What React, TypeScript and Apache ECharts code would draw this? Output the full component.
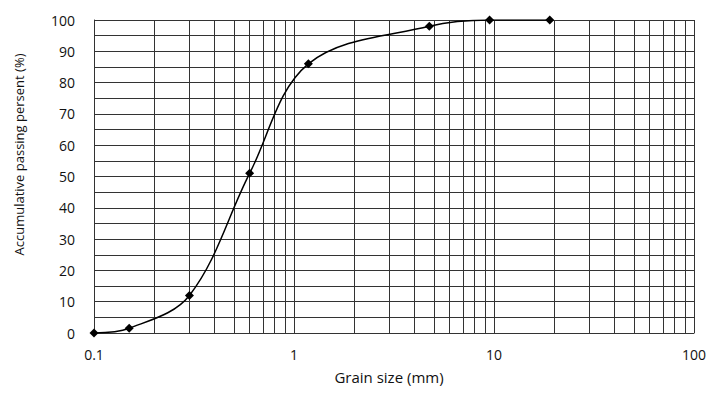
import React, { useEffect, useRef } from "react";
import * as echarts from "echarts";

const grainSizes = [0.1, 0.15, 0.3, 0.6, 1.18, 4.75, 9.5, 19];
const passing = [0, 1.5, 12, 51, 86, 98, 100, 100];
const verticalGrid = [
  0.2, 0.3, 0.4, 0.5, 0.6, 0.7, 0.8, 0.9, 1,
  2, 3, 4, 5, 6, 7, 8, 9, 10,
  20, 30, 40, 50, 60, 70, 80, 90, 100,
];
const xTickLabels = ["0.1", "1", "10", "100"];

const FONT = "'Open Sans', 'Noto Sans', sans-serif";

export default function App() {
  const ref = useRef<HTMLDivElement>(null);
  useEffect(() => {
    if (!ref.current) return;
    const chart = echarts.init(ref.current, null, { renderer: "svg" });
    chart.setOption({
      animation: false,
      backgroundColor: "#fff",
      grid: { left: 94, right: 25, top: 20, bottom: 65 },
      xAxis: {
        type: "log",
        logBase: 10,
        min: 0.1,
        max: 100,
        name: "Grain size (mm)",
        nameLocation: "middle",
        nameGap: 36,
        nameTextStyle: { fontFamily: FONT, fontSize: 15, color: "#111", padding: [0, 10, 0, 0] },
        axisLine: { show: true, lineStyle: { color: "#333", width: 1 } },
        axisTick: { show: false },
        axisLabel: {
          fontFamily: FONT,
          fontSize: 14,
          color: "#111",
          margin: 14,
          formatter: (v: number) => {
            const s = String(Math.round(v * 10) / 10);
            return xTickLabels.includes(s) ? s : "";
          },
        },
        splitLine: { show: false },
        minorTick: { show: false },
        minorSplitLine: { show: false },
      },
      yAxis: {
        type: "value",
        min: 0,
        max: 100,
        interval: 5,
        name: "Accumulative passing persent (%)",
        nameLocation: "middle",
        nameGap: 69,
        nameTextStyle: { fontFamily: FONT, fontSize: 13, color: "#111", padding: [0, 0, 0, 44] },
        axisLine: { show: true, lineStyle: { color: "#333", width: 1 } },
        axisTick: { show: false },
        axisLabel: {
          fontFamily: FONT,
          fontSize: 14,
          color: "#111",
          margin: 19,
          formatter: (v: number) => (v % 10 === 0 ? String(v) : ""),
        },
        splitLine: { show: true, lineStyle: { color: "#333", width: 1 } },
      },
      series: [
        {
          type: "line",
          data: grainSizes.map((g, i) => [g, passing[i]]),
          smooth: 0.35,
          symbol: "diamond",
          symbolSize: 9,
          itemStyle: { color: "#000" },
          lineStyle: { color: "#000", width: 1.5 },
          z: 5,
          markLine: {
            silent: true,
            symbol: "none",
            label: { show: false },
            lineStyle: { color: "#333", width: 1, type: "solid" },
            data: verticalGrid.map((v) => ({ xAxis: v })),
            z: 1,
          },
        },
      ],
    });
    return () => chart.dispose();
  }, []);
  return (
    <div
      ref={ref}
      style={{ position: "fixed", left: 0, top: 0, width: 719, height: 398 }}
    />
  );
}
